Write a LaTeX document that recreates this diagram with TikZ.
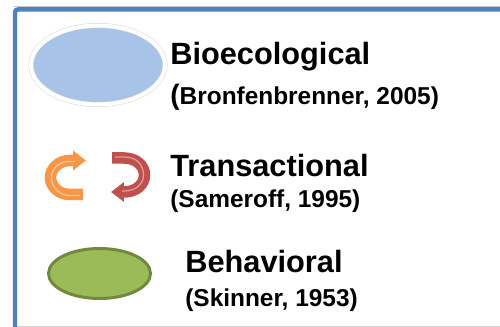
\documentclass[tikz,border=0pt]{standalone}
\usepackage{fontspec}
\setmainfont{Liberation Sans}
\usetikzlibrary{shapes.geometric,arrows.meta}
\definecolor{frameblue}{HTML}{4F81BD}
\definecolor{discblue}{HTML}{A7C3E8}
\definecolor{discgreen}{HTML}{9BBB59}
\definecolor{rimgreen}{HTML}{71893F}
\definecolor{arroworange}{HTML}{F79646}
\definecolor{arrowred}{HTML}{C0504D}
\begin{document}
\begin{tikzpicture}[x=0.02cm, y=-0.02cm,
        title_text/.style={anchor=base west, inner sep=0pt, font=\fontsize{17.5}{20}\selectfont\bfseries},
        ref_text/.style={anchor=base west, inner sep=0pt, font=\fontsize{13.9}{16}\selectfont\bfseries},
        blue_disc/.style={ellipse, inner sep=0pt, minimum width=2.68cm, minimum height=1.58cm, fill=discblue, draw=gray!30, line width=0.3pt, double=white, double distance=0.08cm},
        green_disc/.style={ellipse, inner sep=0pt, minimum width=2.04cm, minimum height=1.0cm, fill=discgreen, draw=rimgreen, line width=0.06cm},
        cycle_arrow/.style={line width=0.23cm, -{Triangle[length=0.26cm, width=0.38cm]}},
        arrow_shine/.style={line width=0.7pt, white, opacity=0.45}
    ]
        \useasboundingbox (0,0) rectangle (500,327);
        \clip (0,0) rectangle (500,327);

        % Frame
        \draw[gray!45, line width=0.025cm] (14,6.3) -- (500,6.3);
        \draw[frameblue, line width=0.09cm, rounded corners=0.06cm] (15,9.5) rectangle (560,400);
        \draw[gray!35, line width=0.03cm] (17,326.4) -- (500,326.4);

        % Symbols
        \node[blue_disc] (bioshape) at (98,65) {};
        \node[green_disc] (behavshape) at (99.5,273.5) {};

        % Circular arrows
        \draw[cycle_arrow, arroworange] (83,194.5) -- (70,194.5) .. controls (59,194.5) and (50.5,186.6) .. (50.5,177.5) .. controls (50.5,168.4) and (59,160.5) .. (70,160.5) -- (86,160.5);
        \draw[arrow_shine] (80,195.5) -- (70,195.5) .. controls (60,195.5) and (51.5,188) .. (51.5,177.5) .. controls (51.5,168.4) and (59,161.5) .. (70,161.5) -- (75,161.5);
        \draw[cycle_arrow, arrowred] (112,158) -- (124,158) .. controls (136,158) and (144.5,165.6) .. (144.5,175) .. controls (144.5,184.4) and (136,192) .. (124,192) -- (111,192);
        \draw[arrow_shine] (115,157) -- (124,157) .. controls (137,157) and (143.5,165) .. (143.5,175) .. controls (143.5,184) and (136,191) .. (124,191) -- (122,191);

        % Labels
        \node[title_text] (bio) at (170,65) {Bioecological};
        \node[ref_text] (bioref) at (170,105) {{\fontsize{16}{16}\selectfont(}Bronfenbrenner, 2005)};
        \node[title_text] (trans) at (170,177) {Transactional};
        \node[ref_text] (transref) at (170,208) {(Sameroff, 1995)};
        \node[title_text] (behav) at (185,273) {Behavioral};
        \node[ref_text] (behavref) at (185,307) {(Skinner, 1953)};
    \end{tikzpicture}
\end{document}
